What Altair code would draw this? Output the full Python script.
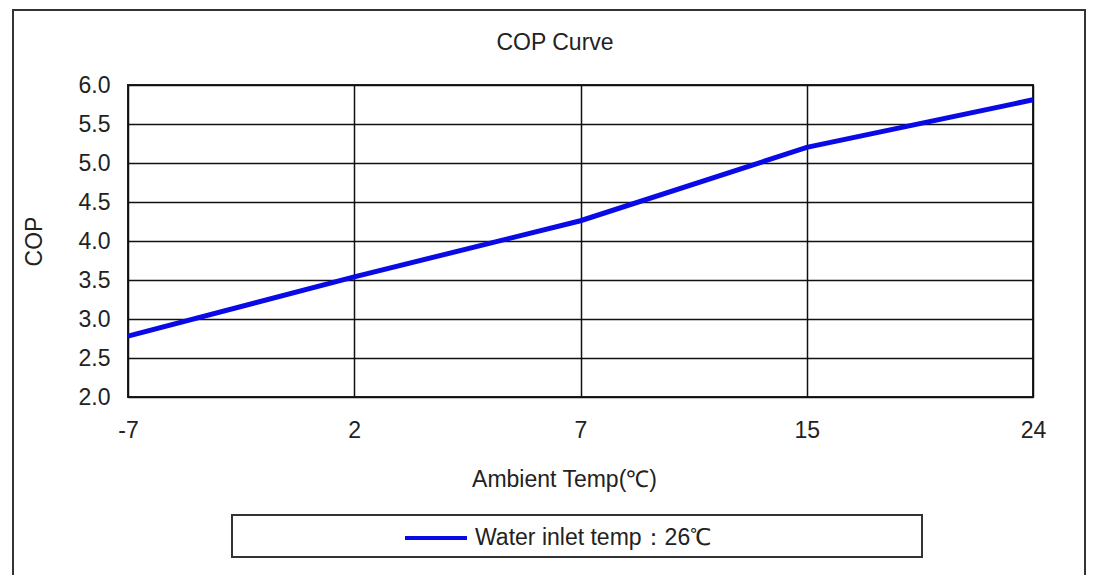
import altair as alt
import pandas as pd

ambient = ["-7", "2", "7", "15", "24"]
cop = [2.78, 3.54, 4.26, 5.20, 5.81]
series_name = "Water inlet temp：26℃"
y_ticks = [2.0, 2.5, 3.0, 3.5, 4.0, 4.5, 5.0, 5.5, 6.0]
chart_title = "COP Curve"

df = pd.DataFrame({"ambient": ambient, "cop": cop, "series": [series_name] * len(ambient)})
one = pd.DataFrame({"a": [0]})

FONT = "Liberation Sans"
TXT = "#222222"
FS = 23

x_enc = alt.X("ambient:O", sort=ambient, scale=alt.Scale(type="point", padding=0),
              axis=alt.Axis(title="Ambient Temp(℃)", labelAngle=0, labelPadding=22,
                            titlePadding=26, titleX=436, labelFontSize=FS, titleFontSize=FS))
y_enc = alt.Y("cop:Q", scale=alt.Scale(domain=[2, 6], nice=False, zero=False),
              axis=alt.Axis(title="COP", values=y_ticks, format=".1f", labelPadding=18,
                            titlePadding=32, labelFontSize=FS, titleFontSize=FS))

frame = alt.Chart(one).mark_rect(fill="transparent", stroke="#333333", strokeWidth=2).encode(
    x=alt.value(-115), x2=alt.value(957), y=alt.value(-75), y2=alt.value(492))

legend_box = alt.Chart(one).mark_rect(fill="white", stroke="#333333", strokeWidth=2).encode(
    x=alt.value(104), x2=alt.value(794), y=alt.value(430), y2=alt.value(472))

title = alt.Chart(one).mark_text(font=FONT, fontSize=FS, color=TXT, align="center",
                                 baseline="middle").encode(
    x=alt.value(427), y=alt.value(-42), text=alt.value(chart_title))

line = alt.Chart(df).mark_line(strokeWidth=5).encode(
    x=x_enc, y=y_enc,
    color=alt.Color("series:N", scale=alt.Scale(domain=[series_name], range=["#0a0ae6"]),
                    legend=alt.Legend(title=None, orient="none", legendX=275, legendY=420,
                                      symbolType="stroke", symbolSize=3844, symbolStrokeWidth=4,
                                      labelFontSize=FS, labelFont=FONT, labelColor=TXT,
                                      labelOffset=6, labelLimit=500, padding=0)))

chart = alt.layer(frame, legend_box, title, line).properties(
    width=905, height=312,
    padding={"left": 120, "top": 77, "right": 55, "bottom": 178},
    autosize=alt.AutoSizeParams(type="none"),
    background="white",
).configure_view(stroke="#222222", strokeWidth=2).configure_axis(
    grid=True, gridColor="#111111", gridWidth=1.5, gridOpacity=1, domain=False, ticks=False,
    labelFont=FONT, titleFont=FONT, labelColor=TXT, titleColor=TXT, titleFontWeight="normal"
)

chart.save("out.html", embed_options={"renderer": "svg", "actions": False})
